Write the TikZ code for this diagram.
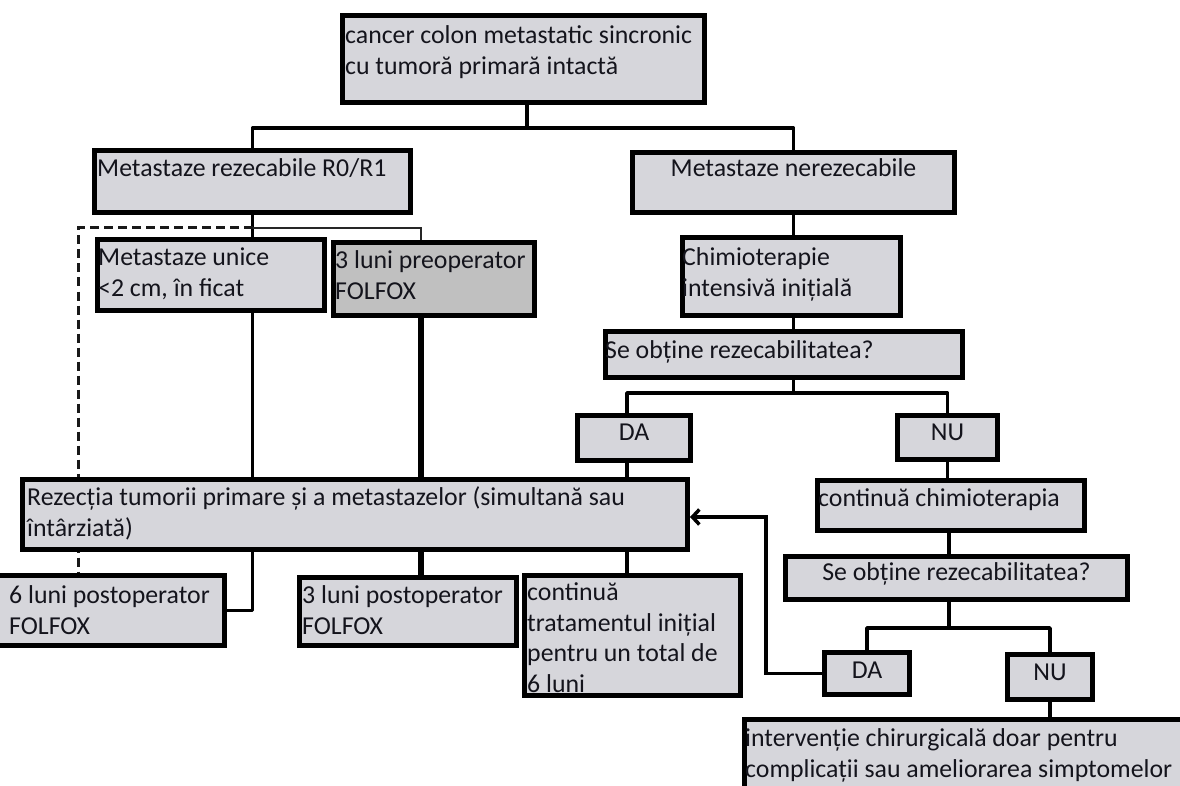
\documentclass[tikz,border=0pt]{standalone}
\usepackage{fontspec}
\setmainfont{Carlito}
\usetikzlibrary{fit,backgrounds,arrows.meta}
\definecolor{boxgray}{RGB}{214,214,219}
\definecolor{darkgray2}{RGB}{192,192,192}
\definecolor{txtc}{RGB}{20,20,28}
\newcommand{\ff}{\fontsize{25.8}{30.5}\selectfont}
\tikzset{
  box/.style={draw=black, line width=5pt, fill=boxgray, inner sep=-2.5pt},
  lbl/.style={anchor=north west, inner sep=0pt, align=left, font=\ff, text=txtc, yshift=-3pt},
  lblc/.style={anchor=north, inner sep=0pt, align=center, font=\ff, text=txtc, yshift=-3pt},
  conn/.style={draw=black, line width=3.5pt, line join=round},
  thinconn/.style={draw=black!85, line width=2.5pt},
  thickconn/.style={draw=black, line width=5.5pt},
  dashconn/.style={draw=black!90, line width=3pt, dash pattern=on 9pt off 5pt},
  arrconn/.style={draw=black, line width=3.5pt, -{Straight Barb[length=7pt,width=15pt,line width=3.5pt]}}
}
\begin{document}
\begin{tikzpicture}[x=1pt,y=-1pt]
\useasboundingbox (0,0) rectangle (1180,786);

% boxes
\node[box, fit={(340,13)(707,105)}, label={[lbl,xshift=5pt,yshift=-6pt]north west:{\strut cancer colon metastatic sincronic\\cu tumoră primară intactă}}] (top) {};
\node[box, fit={(92,148)(413,215)}, label={[lbl,xshift=5pt,yshift=-4pt]north west:{\strut Metastaze rezecabile R0/R1}}] (rez) {};
\node[box, fit={(630,150)(957,215)}, label={[lblc,yshift=-2pt]north:{\strut Metastaze nerezecabile}}] (nerez) {};
\node[box, fit={(95,237)(327,313)}, label={[lbl,xshift=3pt,yshift=-4pt]north west:{\strut Metastaze unice\\<2 cm, în ficat}}] (unice) {};
\node[box, fill=darkgray2, fit={(331,240)(537,318)}, label={[lbl,xshift=4pt,yshift=-4pt]north west:{\strut 3 luni preoperator\\FOLFOX}}] (preop) {};
\node[box, fit={(680,235)(903,318)}, label={[lbl,xshift=2pt,yshift=-6pt]north west:{\strut Chimioterapie\\intensivă inițială}}] (chimio) {};
\node[box, fit={(603,329)(965,380)}, label={[lbl,xshift=2pt,yshift=-5pt]north west:{\strut Se obține rezecabilitatea?}}] (se1) {};
\node[box, fit={(575,413)(693,463)}, label={[lblc,yshift=-3pt]north:{\strut DA}}] (da1) {};
\node[box, fit={(895,413)(1000,462)}, label={[lblc,yshift=-3pt]north:{\strut NU}}] (nu1) {};
\node[box, fit={(20,477)(690,552)}, label={[lbl,xshift=7pt,yshift=-4pt]north west:{\strut Rezecția tumorii primare și a metastazelor (simultană sau\\întârziată)}}] (rezectia) {};
\node[box, fit={(815,478)(1087,533)}, label={[lbl,xshift=3pt,yshift=-4pt]north west:{\strut continuă chimioterapia}}] (contchim) {};
\node[box, fit={(783,554)(1130,602)}, label={[lblc,yshift=-2pt]north:{\strut Se obține rezecabilitatea?}}] (se2) {};
\node[box, fit={(-6,573)(227,648)}, label={[lbl,xshift=15pt,yshift=-6pt]north west:{\strut 6 luni postoperator\\FOLFOX}}] (six) {};
\node[box, fit={(297,575)(519,648)}, label={[lbl,xshift=5pt,yshift=-4pt]north west:{\strut 3 luni postoperator\\FOLFOX}}] (postop) {};
\node[box, fit={(522,573)(743,698)}, label={[lbl,xshift=5pt,yshift=-3pt]north west:{\strut continuă\\tratamentul inițial\\pentru un total de\\6 luni}}] (cont) {};
\node[box, fit={(822,650)(912,697)}, label={[lblc,yshift=-4pt]north:{\strut DA}}] (da2) {};
\node[box, fit={(1005,652)(1095,702)}, label={[lblc,yshift=-4pt]north:{\strut NU}}] (nu2) {};
\node[box, fit={(742,717)(1195,800)}, label={[lbl,xshift=3pt,yshift=-5pt]north west:{\strut intervenție chirurgicală doar pentru\\complicații sau ameliorarea simptomelor}}] (final) {};

% junction points
\coordinate (j1) at (527,128);
\coordinate (j2) at (421,228);
\coordinate (jd) at (78,228);
\coordinate (jda) at (627,393);
\coordinate (jj) at (949,628);
\coordinate (ja) at (766,517);

\begin{scope}[on background layer]
% top level
\draw[conn] (top.south -| j1) -- (j1);
\draw[conn] (rez.north) |- (j1) -| (nerez.north);
% left branch
\draw[conn] (rez.south) -- (rez.south |- six.east) -- (six.east);
\draw[thinconn] (rez.south |- j2) -- (j2) -- (preop.north -| j2);
\draw[thickconn] (preop.south -| j2) -- (postop.north -| j2);
\draw[dashconn] (rez.south |- jd) -- (jd) -- (six.north -| jd);
% right branch
\draw[conn] (nerez.south) -- (nerez.south |- chimio.north);
\draw[conn] (chimio.south -| nerez.south) -- (se1.north -| nerez.south);
\draw[conn] (se1.south -| nerez.south) -- (nerez.south |- jda);
\draw[conn] (da1.north -| jda) -- (jda) -| (nu1.north);
\draw[conn] (da1.south -| jda) -- (rezectia.north -| jda);
\draw[conn] (rezectia.south -| jda) -- (cont.north -| jda);
\draw[conn] (nu1.south) -- (nu1.south |- contchim.north);
\draw[conn] (contchim.south -| jj) -- (se2.north -| jj);
\draw[conn] (se2.south -| jj) -- (jj);
\draw[conn] (da2.north) |- (jj) -| (nu2.north);
\draw[conn] (nu2.south) -- (final.north -| nu2.south);
\draw[arrconn] (da2.west) -| (ja) -- (rezectia.east |- ja);
\end{scope}
\end{tikzpicture}
\end{document}
